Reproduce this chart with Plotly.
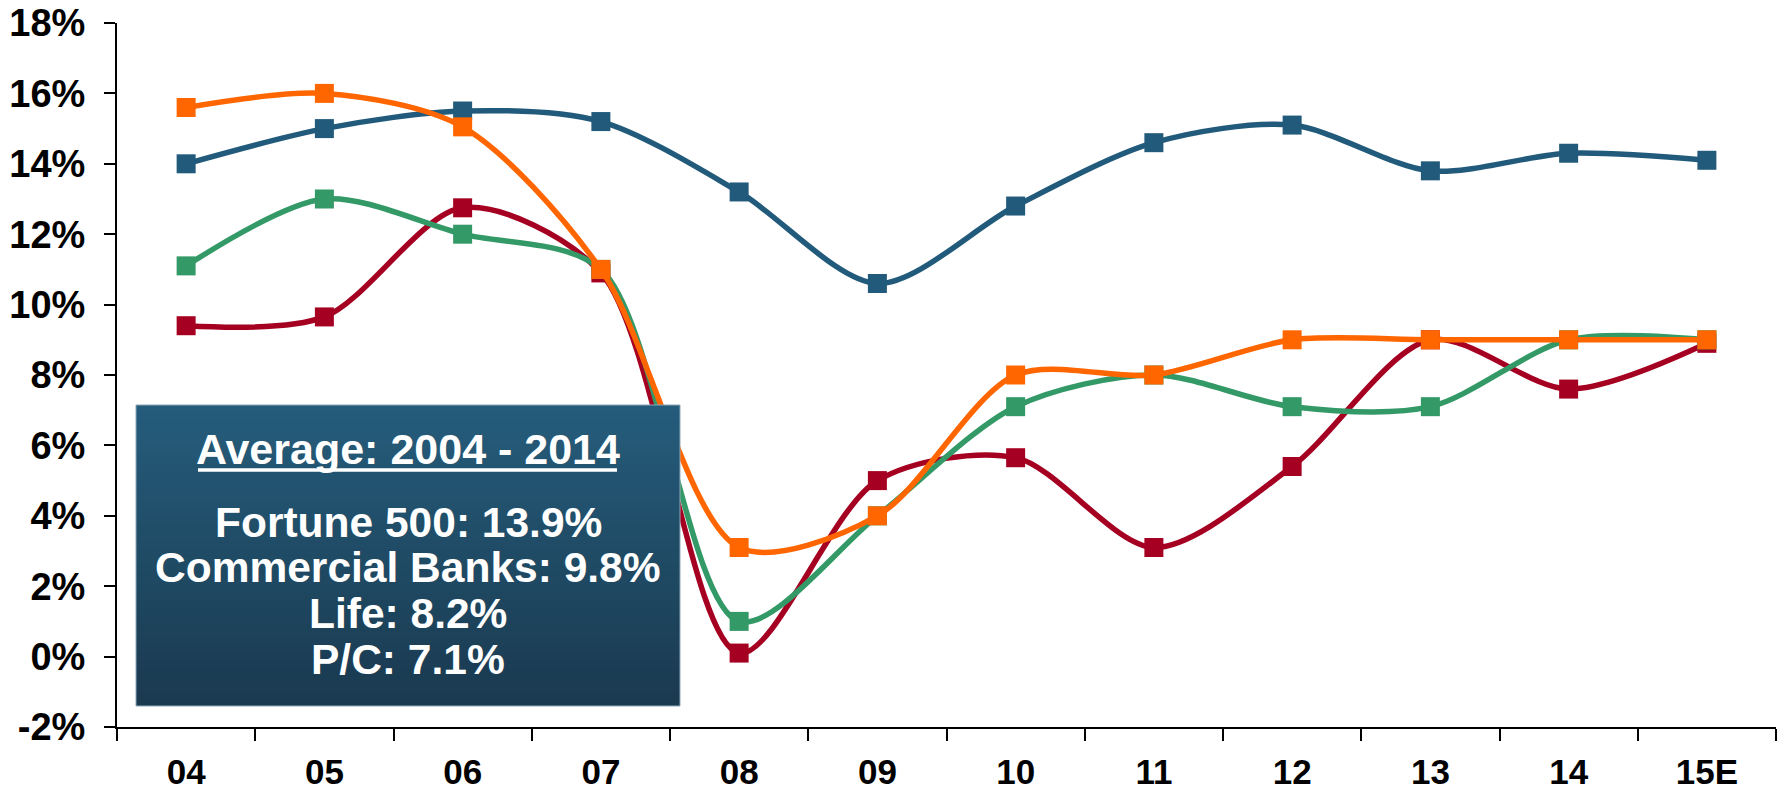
import plotly.graph_objects as go

years = ["04", "05", "06", "07", "08", "09", "10", "11", "12", "13", "14", "15E"]
fortune500 = [14.0, 15.0, 15.5, 15.2, 13.2, 10.6, 12.8, 14.6, 15.1, 13.8, 14.3, 14.1]
banks = [15.6, 16.0, 15.05, 11.0, 3.1, 4.0, 8.0, 8.0, 9.0, 9.0, 9.0, 9.0]
life = [11.1, 13.0, 12.0, 11.0, 1.0, 4.0, 7.1, 8.0, 7.1, 7.1, 9.0, 9.0]
pc = [9.4, 9.65, 12.75, 10.9, 0.1, 5.0, 5.65, 3.1, 5.4, 9.0, 7.6, 8.9]

y_tickvals = [-2, 0, 2, 4, 6, 8, 10, 12, 14, 16, 18]
y_ticktext = ["-2%", "0%", "2%", "4%", "6%", "8%", "10%", "12%", "14%", "16%", "18%"]

series = [
    ("Fortune 500", fortune500, "#215A7B"),
    ("P/C", pc, "#A50021"),
    ("Life", life, "#339966"),
    ("Commercial Banks", banks, "#FF6600"),
]

box_title = "Average: 2004 - 2014"
box_lines = ["Fortune 500: 13.9%", "Commercial Banks: 9.8%", "Life: 8.2%", "P/C: 7.1%"]

FONT = "Arial, Liberation Sans, sans-serif"

fig = go.Figure()
for name, vals, color in series:
    fig.add_trace(go.Scatter(
        x=years, y=vals, name=name, mode="lines+markers",
        line=dict(color=color, width=5.5, shape="spline", smoothing=0.85),
        marker=dict(symbol="square", size=19, color=color),
        showlegend=False, hoverinfo="skip",
    ))

W, H = 1785, 792
ml, mr, mt, mb = 117, 9, 23, 65
pw, ph = W - ml - mr, H - mt - mb

def px2paper_x(px):
    return (px - ml) / pw

def px2paper_y(py):
    return (H - mb - py) / ph

# gradient box: cumulative overlapping strips (no seams)
bx0, bx1, by0, by1 = 136, 680, 405, 706
top = (0x25, 0x5C, 0x7B)
bot = (0x1A, 0x3A, 0x50)
n = 40
shapes = []
for i in range(n):
    t = i / (n - 1)
    c = tuple(int(round(top[k] + (bot[k] - top[k]) * t)) for k in range(3))
    ya = by0 + (by1 - by0) * i / n
    shapes.append(dict(
        type="rect", xref="paper", yref="paper", layer="above",
        x0=px2paper_x(bx0), x1=px2paper_x(bx1),
        y0=px2paper_y(by1), y1=px2paper_y(ya),
        fillcolor="rgb(%d,%d,%d)" % c, line=dict(width=0),
    ))
shapes.append(dict(
    type="rect", xref="paper", yref="paper", layer="above",
    x0=px2paper_x(bx0), x1=px2paper_x(bx1),
    y0=px2paper_y(by1), y1=px2paper_y(by0),
    fillcolor="rgba(0,0,0,0)", line=dict(width=1, color="#8FA9BA"),
))
# underline for the title
shapes.append(dict(
    type="line", xref="paper", yref="paper", layer="above",
    x0=px2paper_x(198), x1=px2paper_x(617),
    y0=px2paper_y(470), y1=px2paper_y(470),
    line=dict(width=3.5, color="white"),
))

cx = (bx0 + bx1) / 2
annotations = [dict(
    text=box_title, xref="paper", yref="paper",
    x=px2paper_x(cx), y=px2paper_y(449), xanchor="center", yanchor="middle",
    showarrow=False, font=dict(family=FONT, size=43, color="white", weight="bold"),
)]
ys = [522, 567, 613, 659]
for txt, yy in zip(box_lines, ys):
    annotations.append(dict(
        text=txt, xref="paper", yref="paper",
        x=px2paper_x(cx), y=px2paper_y(yy), xanchor="center", yanchor="middle",
        showarrow=False, font=dict(family=FONT, size=42.5, color="white", weight="bold"),
    ))

fig.update_layout(
    width=W, height=H,
    margin=dict(l=ml, r=mr, t=mt, b=mb, autoexpand=False),
    plot_bgcolor="white", paper_bgcolor="white",
    shapes=shapes, annotations=annotations,
    font=dict(family=FONT, color="black"),
)
fig.update_xaxes(
    type="category", range=[-0.5, 11.5], automargin=False,
    showline=True, linecolor="black", linewidth=2,
    ticks="outside", ticklen=12, tickwidth=2, tickcolor="black",
    tickson="boundaries", showgrid=False, zeroline=False,
    tickfont=dict(family=FONT, size=35, color="black", weight="bold"),
    ticklabelstandoff=13,
)
fig.update_yaxes(
    range=[-2, 18], tickvals=y_tickvals, ticktext=y_ticktext, automargin=False,
    showline=True, linecolor="black", linewidth=2,
    ticks="outside", ticklen=11, tickwidth=2, tickcolor="black",
    showgrid=False, zeroline=False,
    tickfont=dict(family=FONT, size=38, color="black", weight="bold"),
    ticklabelstandoff=11,
)

fig.write_html(
    "out.html",
    config={"displayModeBar": False},
    post_script="document.body.style.margin='0';document.body.style.overflow='hidden';",
)
